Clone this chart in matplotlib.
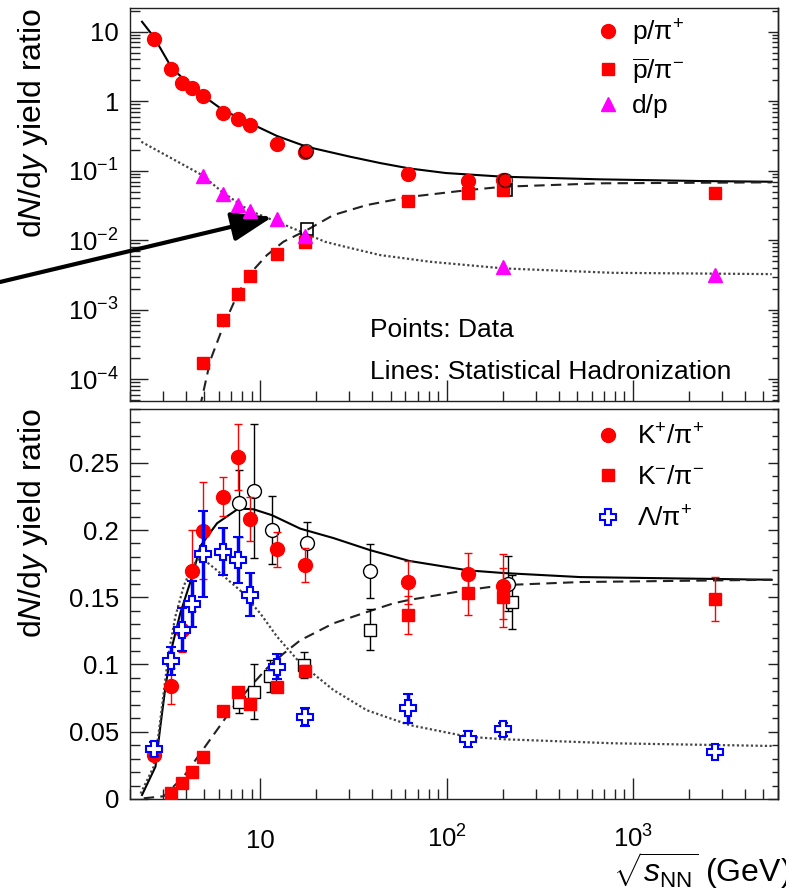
import numpy as np
import matplotlib
matplotlib.use("Agg")
import matplotlib.pyplot as plt
from matplotlib.lines import Line2D
from matplotlib.ticker import FuncFormatter, LogLocator, MultipleLocator, NullFormatter

plt.rcParams['font.family'] = ['Liberation Sans', 'DejaVu Sans']
plt.rcParams['mathtext.fontset'] = 'custom'
plt.rcParams['mathtext.rm'] = 'Liberation Sans'
plt.rcParams['mathtext.it'] = 'Liberation Sans:italic'
plt.rcParams['mathtext.bf'] = 'Liberation Sans:bold'

# ---- top panel: data ----
p_pi_E = [2.7, 3.3, 3.8, 4.3, 4.9, 6.3, 7.6, 8.8, 12.3, 17.3, 62.4, 130, 200]
p_pi = [7.85, 2.88, 1.81, 1.53, 1.19, 0.68, 0.55, 0.455, 0.242, 0.185, 0.0887, 0.0711, 0.0735]
pbar_E = [4.9, 6.3, 7.6, 8.8, 12.3, 17.3, 62.4, 130, 200, 2760]
pbar = [1.69e-4, 7.1e-4, 1.68e-3, 3.05e-3, 6.3e-3, 9.5e-3, 0.037, 0.0473, 0.0527, 0.0483]
dp_E = [4.9, 6.3, 7.6, 8.8, 12.3, 17.3, 200, 2760]
dp = [0.084, 0.046, 0.0322, 0.0263, 0.0199, 0.0116, 4.16e-3, 3.16e-3]
top_osq_E = [17.8, 209]
top_osq = [0.0143, 0.0527]
top_ocirc_E = [17.5, 205]
top_ocirc = [0.194, 0.0735]

# ---- top panel: statistical hadronization curves ----
sh_pp_E = [2.32, 2.68, 3.32, 4.04, 4.87, 6.31, 7.59, 8.84, 12.3, 17.8, 30.4, 44, 63, 99, 202, 665, 2290, 5550]
sh_pp = [13.9, 8.47, 3.14, 1.85, 1.23, 0.745, 0.586, 0.481, 0.316, 0.221, 0.159, 0.129, 0.108, 0.0927,
         0.082, 0.0752, 0.0711, 0.0695]
sh_pb_E = [4.75, 5.4, 6.31, 7.59, 8.84, 10.86, 13.3, 17.8, 24.7, 37.3, 63, 130, 202, 665, 5550]
sh_pb = [4.0e-5, 1.89e-4, 5.69e-4, 1.72e-3, 3.34e-3, 6.12e-3, 9.51e-3, 0.01403, 0.02307, 0.0321, 0.042,
         0.0527, 0.0589, 0.0659, 0.0681]
sh_dp_E = [2.30, 4.87, 6.23, 7.65, 8.76, 12.3, 17.4, 22.3, 28.6, 44, 81.6, 202, 784, 5550]
sh_dp = [0.261, 0.0867, 0.0499, 0.034, 0.0266, 0.01845, 0.01256, 0.0095, 0.00805, 0.00612, 0.00491,
         0.00394, 0.0034, 0.00326]

# ---- bottom panel: data ----
kp_E = [2.7, 3.3, 3.8, 4.3, 4.9, 6.3, 7.6, 8.8, 12.3, 17.3, 62.4, 130, 200]
kp = [0.0327, 0.084, 0.126, 0.1697, 0.1995, 0.2248, 0.2545, 0.208, 0.1856, 0.174, 0.161, 0.167, 0.158]
kp_err = [0.004, 0.0135, 0.017, 0.03, 0.036, 0.0145, 0.0245, 0.0165, 0.013, 0.0125, 0.016, 0.0156, 0.024]
km_E = [3.3, 3.8, 4.3, 4.9, 6.3, 7.6, 8.8, 12.3, 17.3, 62.4, 130, 200, 2760]
km = [0.0045, 0.0121, 0.0203, 0.031, 0.0654, 0.0798, 0.0706, 0.083, 0.0954, 0.1368, 0.153, 0.150, 0.1485]
km_err = [0.001, 0.001, 0.001, 0.002, 0.002, 0.003, 0.003, 0.003, 0.004, 0.0142, 0.0163, 0.022, 0.0162]
lam_E = [2.7, 3.3, 3.8, 4.3, 4.9, 6.3, 7.6, 8.8, 12.3, 17.3, 62.4, 130, 200, 2760]
lam = [0.0372, 0.1027, 0.126, 0.145, 0.182, 0.184, 0.1777, 0.1517, 0.0984, 0.0612, 0.0674, 0.0446,
       0.0518, 0.0352]
lam_err = [0.0055, 0.0105, 0.016, 0.017, 0.032, 0.0175, 0.0173, 0.016, 0.0093, 0.0068, 0.011, 0.0056,
           0.0047, 0.002]
bc_E = [7.7, 9.2, 11.5, 17.9, 39, 213]
bc = [0.2198, 0.229, 0.200, 0.1906, 0.1697, 0.160]
bc_err = [0.025, 0.05, 0.025, 0.015, 0.02, 0.0205]
bs_E = [7.7, 9.2, 11.3, 17.1, 39, 224]
bs = [0.0723, 0.0798, 0.0914, 0.0996, 0.126, 0.1467]
bs_err = [0.0085, 0.0205, 0.012, 0.0095, 0.015, 0.02]

# ---- bottom panel: model curves ----
sh_kp_E = [2.32, 2.74, 2.91, 3.10, 3.36, 3.72, 4.30, 4.77, 5.86, 7.65, 9.21, 11.56, 16.4, 24.7, 38.9,
           63, 130, 202, 520, 5550]
sh_kp = [0.003, 0.024, 0.054, 0.0835, 0.113, 0.138, 0.165, 0.188, 0.205, 0.216, 0.2154, 0.211, 0.201,
         0.194, 0.185, 0.177, 0.170, 0.168, 0.165, 0.163]
sh_km_E = [2.37, 3.03, 3.88, 4.77, 5.86, 7.19, 8.84, 10.86, 13.3, 16.4, 24.7, 37.3, 51.9, 63, 130, 202,
           520, 5550]
sh_km = [0.0005, 0.002, 0.0166, 0.034, 0.0513, 0.0686, 0.0835, 0.0972, 0.108, 0.118, 0.1306, 0.139,
         0.1455, 0.148, 0.1554, 0.159, 0.1613, 0.163]
sh_lam_E = [2.28, 2.68, 2.85, 3.03, 3.22, 3.50, 3.88, 4.30, 4.77, 5.86, 7.81, 10.0, 12.3, 16.4, 24.7,
            37.3, 63, 130, 202, 784, 5550]
sh_lam = [0.004, 0.024, 0.0488, 0.0785, 0.108, 0.1355, 0.158, 0.173, 0.180, 0.170, 0.155, 0.138, 0.1207,
          0.101, 0.081, 0.066, 0.055, 0.0463, 0.0444, 0.0414, 0.0394]

TICK_FS = 18.5
TEXT_FS = 19
LABEL_FS = 23
RED, MAG, BLUE = '#ff0000', '#ff00ff', '#0000ff'
DOT = (0, (1, 1.1))
DASH = (0, (5, 3))


def log_fmt(v, pos):
    e = int(round(np.log10(v)))
    if e == 0:
        return '1'
    if e == 1:
        return '10'
    return r'$10^{%d}$' % e


def style_axes(ax, logy):
    ax.set_xscale('log')
    ax.set_xlim(2.0, 6000)
    for s in ax.spines.values():
        s.set_linewidth(1.0)
        s.set_color('#222222')
    ax.tick_params(which='both', direction='in', top=False, right=False, width=1,
                   labelsize=TICK_FS, color='#222222')
    ax.tick_params(axis='y', which='major', length=13, pad=8)
    ax.tick_params(axis='y', which='minor', length=7)
    ax.tick_params(axis='x', which='major', length=15, pad=35)
    ax.tick_params(axis='x', which='minor', length=7)
    ax.xaxis.set_major_locator(LogLocator(base=10, numticks=10))
    ax.xaxis.set_minor_locator(LogLocator(base=10, subs=np.arange(2, 10), numticks=10))
    ax.xaxis.set_minor_formatter(NullFormatter())
    sec = ax.secondary_yaxis('right')
    sec.tick_params(which='both', direction='in', width=1, color='#222222')
    sec.tick_params(which='major', length=7)
    sec.tick_params(which='minor', length=4)
    if logy:
        sec.yaxis.set_major_locator(LogLocator(base=10, numticks=15))
        sec.yaxis.set_minor_locator(LogLocator(base=10, subs=np.arange(2, 10), numticks=15))
    else:
        sec.yaxis.set_major_locator(MultipleLocator(0.05))
        sec.yaxis.set_minor_locator(MultipleLocator(0.01))
    sec.yaxis.set_major_formatter(NullFormatter())
    sec.yaxis.set_minor_formatter(NullFormatter())
    sec.spines['right'].set_linewidth(1.0)


fig = plt.figure(figsize=(7.86, 8.91), dpi=100)
ax1 = fig.add_axes([0.1654, 0.5499, 0.8244, 0.4411])
ax2 = fig.add_axes([0.1654, 0.1033, 0.8244, 0.4377])

# ================= top panel =================
ax1.set_yscale('log')
ax1.set_ylim(4.87e-5, 21.9)
style_axes(ax1, True)
ax1.yaxis.set_major_locator(LogLocator(base=10, numticks=15))
ax1.yaxis.set_minor_locator(LogLocator(base=10, subs=np.arange(2, 10), numticks=15))
ax1.yaxis.set_minor_formatter(NullFormatter())
ax1.yaxis.set_major_formatter(FuncFormatter(log_fmt))
ax1.xaxis.set_major_formatter(NullFormatter())

ax1.plot(sh_pp_E, sh_pp, color='black', lw=1.5, zorder=2)
ax1.plot(sh_pb_E, sh_pb, color='#222222', lw=1.5, ls=DASH, zorder=2)
ax1.plot(sh_dp_E, sh_dp, color='#444444', lw=1.6, ls=DOT, zorder=2)

ax1.plot(top_osq_E, top_osq, 's', ms=9, mfc='none', mec='black', mew=1.2, zorder=3)
ax1.plot(p_pi_E, p_pi, 'o', color=RED, ms=10, zorder=4)
ax1.plot(pbar_E, pbar, 's', color=RED, ms=9, zorder=4)
ax1.plot(dp_E, dp, '^', color=MAG, ms=10, zorder=5)
ax1.plot(top_ocirc_E, top_ocirc, 'o', ms=10, mfc='none', mec='black', mew=1.0, alpha=0.8, zorder=5)

h_top = [Line2D([], [], ls='none', marker='o', color=RED, ms=10),
         Line2D([], [], ls='none', marker='s', color=RED, ms=9),
         Line2D([], [], ls='none', marker='^', color=MAG, ms=10)]
l_top = [r'p/$\mathrm{\pi}^{+}$', r'$\overline{\mathrm{p}}$/$\mathrm{\pi}^{-}$', 'd/p']
ax1.legend(h_top, l_top, loc='upper left', bbox_to_anchor=(0.717, 0.975), frameon=False,
           fontsize=TEXT_FS, handlelength=1.0, handletextpad=0.4, labelspacing=0.3,
           borderpad=0, borderaxespad=0, numpoints=1)

ax1.text(0.370, 0.181, 'Points: Data', transform=ax1.transAxes, fontsize=TEXT_FS, va='center')
ax1.text(0.370, 0.074, 'Lines: Statistical Hadronization', transform=ax1.transAxes,
         fontsize=TEXT_FS, va='center')

ax1.annotate('', xy=(11.6, 0.0216), xycoords='data', xytext=(0.0, 1 - 282 / 891),
             textcoords='figure fraction', annotation_clip=False,
             arrowprops=dict(arrowstyle='-|>,head_length=1.25,head_width=0.45', color='black',
                             lw=3, mutation_scale=20, shrinkA=0, shrinkB=0))

# ================= bottom panel =================
ax2.set_ylim(0, 0.29)
style_axes(ax2, False)
ax2.yaxis.set_major_locator(MultipleLocator(0.05))
ax2.yaxis.set_minor_locator(MultipleLocator(0.01))
ax2.yaxis.set_major_formatter(FuncFormatter(lambda v, p: '%g' % round(v, 2)))
ax2.xaxis.set_major_formatter(FuncFormatter(log_fmt))
plt.setp(ax2.get_xticklabels(), va='baseline')

ax2.plot(sh_kp_E, sh_kp, color='black', lw=1.5, zorder=2)
ax2.plot(sh_km_E, sh_km, color='#222222', lw=1.5, ls=DASH, zorder=2)
ax2.plot(sh_lam_E, sh_lam, color='#444444', lw=1.6, ls=DOT, zorder=2)

ax2.errorbar(bc_E, bc, yerr=bc_err, fmt='o', ms=10, mfc='white', mec='black', mew=1.0,
             ecolor='black', elinewidth=1, capsize=3, capthick=1, zorder=3)
ax2.errorbar(bs_E, bs, yerr=bs_err, fmt='s', ms=9, mfc='white', mec='black', mew=1.0,
             ecolor='black', elinewidth=1, capsize=3, capthick=1, zorder=3)
ax2.errorbar(kp_E, kp, yerr=kp_err, fmt='o', ms=10, color=RED, ecolor=RED, elinewidth=1,
             capsize=3, capthick=1, zorder=4)
ax2.errorbar(km_E, km, yerr=km_err, fmt='s', ms=9, color=RED, ecolor=RED, elinewidth=1,
             capsize=3, capthick=1, zorder=4)
ax2.errorbar(lam_E, lam, yerr=lam_err, fmt='P', ms=11, mfc='white', mec=BLUE, mew=1.5,
             ecolor=BLUE, elinewidth=2.5, capsize=3.5, capthick=2.5, zorder=5)

h_bot = [Line2D([], [], ls='none', marker='o', color=RED, ms=10),
         Line2D([], [], ls='none', marker='s', color=RED, ms=9),
         Line2D([], [], ls='none', marker='P', mfc='white', mec=BLUE, mew=1.5, ms=11)]
l_bot = [r'K$^{+}$/$\mathrm{\pi}^{+}$', r'K$^{-}$/$\mathrm{\pi}^{-}$', r'$\Lambda$/$\mathrm{\pi}^{+}$']
ax2.legend(h_bot, l_bot, loc='upper left', bbox_to_anchor=(0.717, 0.962), frameon=False,
           fontsize=TEXT_FS, handlelength=1.0, handletextpad=0.6, labelspacing=0.62,
           borderpad=0, borderaxespad=0, numpoints=1)

# axis titles
ylab = r'd$N$/d$y$ yield ratio'
fig.text(33 / 786, 1 - 8 / 891, ylab, rotation=90, ha='center', va='top', fontsize=LABEL_FS)
fig.text(33 / 786, 1 - 408 / 891, ylab, rotation=90, ha='center', va='top', fontsize=LABEL_FS)
fig.text(613 / 786, 1 - 882 / 891, r'$\sqrt{s_{\mathrm{NN}}}$ (GeV)', ha='left', va='baseline',
         fontsize=23)

fig.savefig('out.png', dpi=100)
